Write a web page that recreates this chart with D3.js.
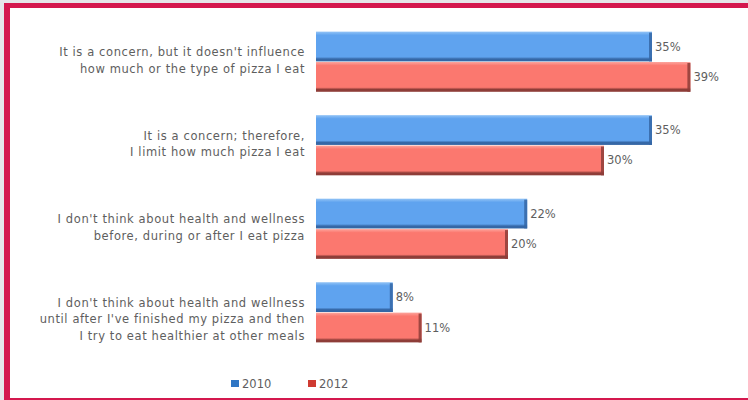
<!DOCTYPE html>
<html>
<head>
<meta charset="utf-8">
<script src="https://cdn.jsdelivr.net/npm/d3@7/dist/d3.min.js"></script>
<style>
  body { margin: 0; background: #e6e6e9; }
  svg { display: block; }
  .cat-label, .val-label, .legend-label {
    font-family: "DejaVu Sans", sans-serif;
    fill: #5e5e5e;
  }
  .cat-label { letter-spacing: 0.6px; }
</style>
</head>
<body>
<svg width="748" height="400"></svg>
<script>
      // data
      const categories = [
        "It is a concern, but it doesn't influence|how much or the type of pizza I eat",
        "It is a concern; therefore,|I limit how much pizza I eat",
        "I don't think about health and wellness|before, during or after I eat pizza",
        "I don't think about health and wellness|until after I've finished my pizza and then|I try to eat healthier at other meals"
      ];
      const years = ["2010", "2012"];
      const values2010 = [35, 35, 22, 8];
      const values2012 = [39, 30, 20, 11];

      const colors = {
        "2010": { main: "#5fa3ef", light: "#93c4f6", dark: "#3567a6" },
        "2012": { main: "#fb786f", light: "#fda59d", dark: "#8e3d38" }
      };

      var svg = d3.select('svg');
      var width = +svg.attr('width');
      var height = +svg.attr('height');

      // frame
      svg.append('rect')
        .attr('x', 4).attr('y', 3)
        .attr('width', width - 4).attr('height', height - 3)
        .attr('fill', '#d4184e');
      svg.append('rect')
        .attr('x', 10).attr('y', 8)
        .attr('width', width - 10).attr('height', height - 10)
        .attr('fill', '#ffffff');

      var defs = svg.append('defs');
      years.forEach(function (yr) {
        var c = colors[yr];
        var grad = defs.append('linearGradient')
          .attr('id', 'grad' + yr)
          .attr('x1', 0).attr('y1', 0).attr('x2', 0).attr('y2', 1);
        grad.append('stop').attr('offset', '0%').attr('stop-color', c.light);
        grad.append('stop').attr('offset', '12%').attr('stop-color', c.main);
        grad.append('stop').attr('offset', '85%').attr('stop-color', c.main);
        grad.append('stop').attr('offset', '92%').attr('stop-color', c.dark);
        grad.append('stop').attr('offset', '100%').attr('stop-color', c.dark);
      });

      var rows = categories.map(function (c, i) {
        return { cat: c, "2010": values2010[i], "2012": values2012[i] };
      });

      var xScale = d3.scaleLinear().domain([0, 40]).range([316, 700]);
      var yScale = d3.scaleBand()
        .domain(categories)
        .range([31, 343])
        .paddingInner(0.265);
      var ySub = d3.scaleBand()
        .domain(years)
        .range([0, yScale.bandwidth()])
        .padding(0.02);

      var groups = svg.append('g').selectAll('g')
        .data(rows)
        .enter().append('g')
          .attr('transform', d => `translate(0,${yScale(d.cat)})`);

      var bars = groups.selectAll('g.bar')
        .data(d => years.map(yr => ({ year: yr, value: d[yr] })))
        .enter().append('g')
          .attr('class', 'bar');

      bars.append('rect')
        .attr('x', xScale(0))
        .attr('y', d => ySub(d.year))
        .attr('width', d => xScale(d.value) - xScale(0))
        .attr('height', ySub.bandwidth())
        .attr('fill', d => `url(#grad${d.year})`);

      // darker right edge
      bars.append('rect')
        .attr('x', d => xScale(d.value) - 3)
        .attr('y', d => ySub(d.year) + 1)
        .attr('width', 3)
        .attr('height', ySub.bandwidth() - 1)
        .attr('fill', d => colors[d.year].dark)
        .attr('opacity', 0.85);

      bars.append('text')
        .attr('class', 'val-label')
        .attr('x', d => xScale(d.value) + 3)
        .attr('y', d => ySub(d.year) + ySub.bandwidth() / 2)
        .attr('dy', '0.35em')
        .style('font-size', '11.5px')
        .text(d => d.value + '%');

      // category labels
      groups.append('text')
        .attr('class', 'cat-label')
        .attr('text-anchor', 'end')
        .style('font-size', '11.5px')
        .selectAll('tspan')
        .data(d => d.cat.split('|'))
        .enter().append('tspan')
          .attr('x', 305)
          .attr('y', (d, i) => 25 + i * 16.5)
          .text(d => d);

      // legend
      var legend = svg.append('g').selectAll('g')
        .data(years)
        .enter().append('g')
          .attr('transform', (d, i) => `translate(${231 + i * 77},380)`);
      legend.append('rect')
        .attr('width', 8).attr('height', 7)
        .attr('fill', d => d === "2010" ? "#2f76c4" : "#cf3b32");
      legend.append('text')
        .attr('class', 'legend-label')
        .attr('x', 11).attr('y', 4)
        .attr('dy', '0.35em')
        .style('font-size', '11.5px')
        .text(d => d);
</script>
</body>
</html>
